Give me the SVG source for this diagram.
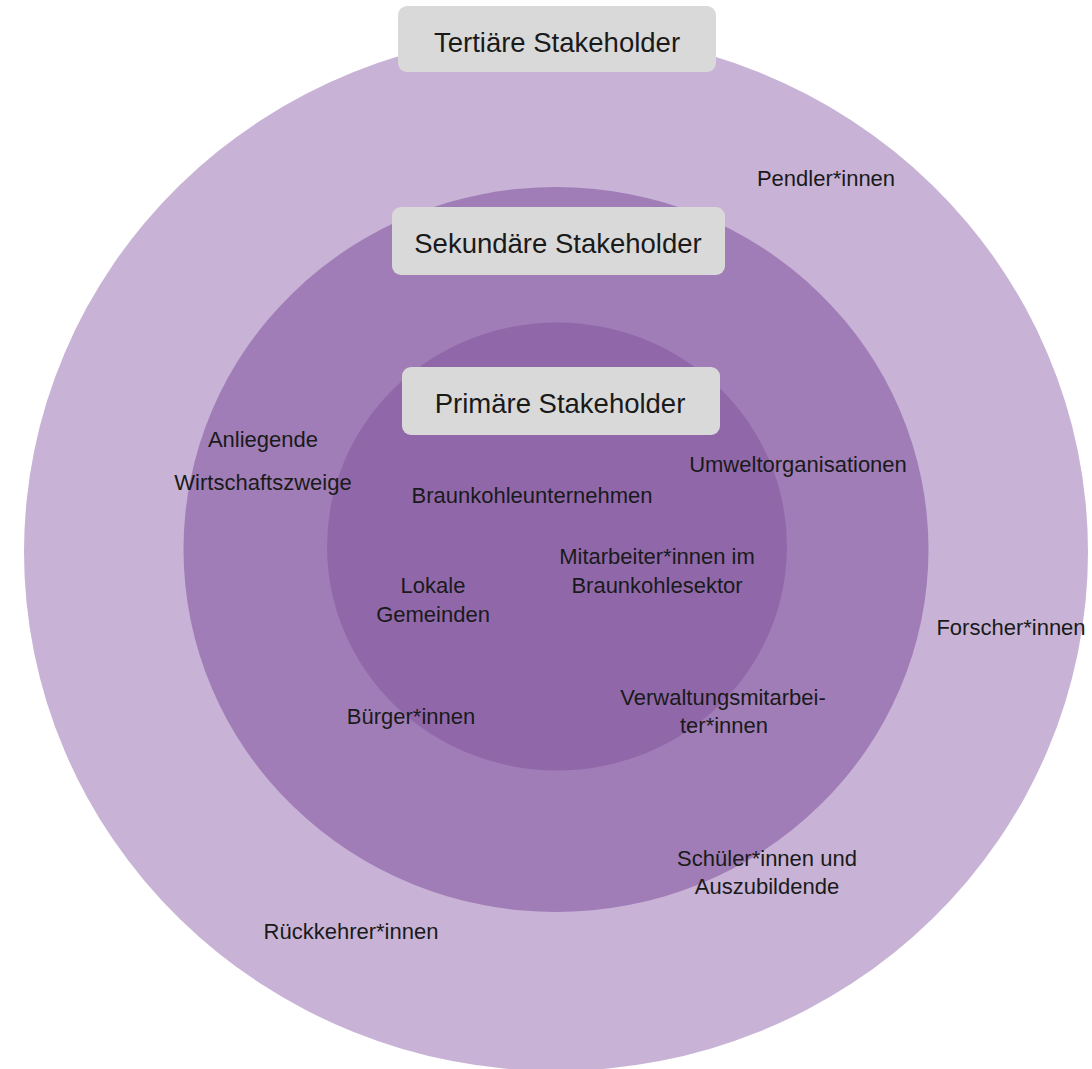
<svg xmlns="http://www.w3.org/2000/svg" width="1092" height="1069" viewBox="0 0 1092 1069">
<style>
.t{font-family:"Liberation Sans",Arial,sans-serif;font-size:22px;fill:#1a1a1a;text-anchor:middle}
.h{font-family:"Liberation Sans",Arial,sans-serif;font-size:27.5px;fill:#1a1a1a;text-anchor:middle}
.box{fill:#d9d9d9}
</style>
<rect width="1092" height="1069" fill="#ffffff"/>
<g id="tertiary">
<ellipse cx="556" cy="552" rx="532" ry="519" fill="#c8b3d6"/>
</g>
<g id="secondary">
<ellipse cx="556" cy="549.5" rx="372.5" ry="362.5" fill="#a07db7"/>
</g>
<g id="primary">
<ellipse cx="557" cy="546.5" rx="230" ry="224" fill="#9068aa"/>
</g>
<g id="label-tertiary">
<rect class="box" x="398" y="6" width="318" height="66" rx="9"/>
<text class="h" x="557" y="52">Tertiäre Stakeholder</text>
</g>
<g id="label-secondary">
<rect class="box" x="392" y="207" width="333" height="68" rx="9"/>
<text class="h" x="558" y="253">Sekundäre Stakeholder</text>
</g>
<g id="label-primary">
<rect class="box" x="402" y="367" width="318" height="68" rx="9"/>
<text class="h" x="560" y="413">Primäre Stakeholder</text>
</g>
<g id="items">
<text class="t" x="826" y="186">Pendler*innen</text>
<text class="t" x="263" y="447">Anliegende</text>
<text class="t" x="263" y="490">Wirtschaftszweige</text>
<text class="t" x="798" y="472">Umweltorganisationen</text>
<text class="t" x="532" y="503">Braunkohleunternehmen</text>
<text class="t" x="657" y="564">Mitarbeiter*innen im</text>
<text class="t" x="657" y="593">Braunkohlesektor</text>
<text class="t" x="433" y="593">Lokale</text>
<text class="t" x="433" y="622">Gemeinden</text>
<text class="t" x="1011" y="635">Forscher*innen</text>
<text class="t" x="411" y="724">Bürger*innen</text>
<text class="t" x="723" y="705">Verwaltungsmitarbei-</text>
<text class="t" x="724" y="733">ter*innen</text>
<text class="t" x="767" y="866">Schüler*innen und</text>
<text class="t" x="767" y="894">Auszubildende</text>
<text class="t" x="351" y="939">Rückkehrer*innen</text>
</g>
<g id="connectors"></g>
</svg>
